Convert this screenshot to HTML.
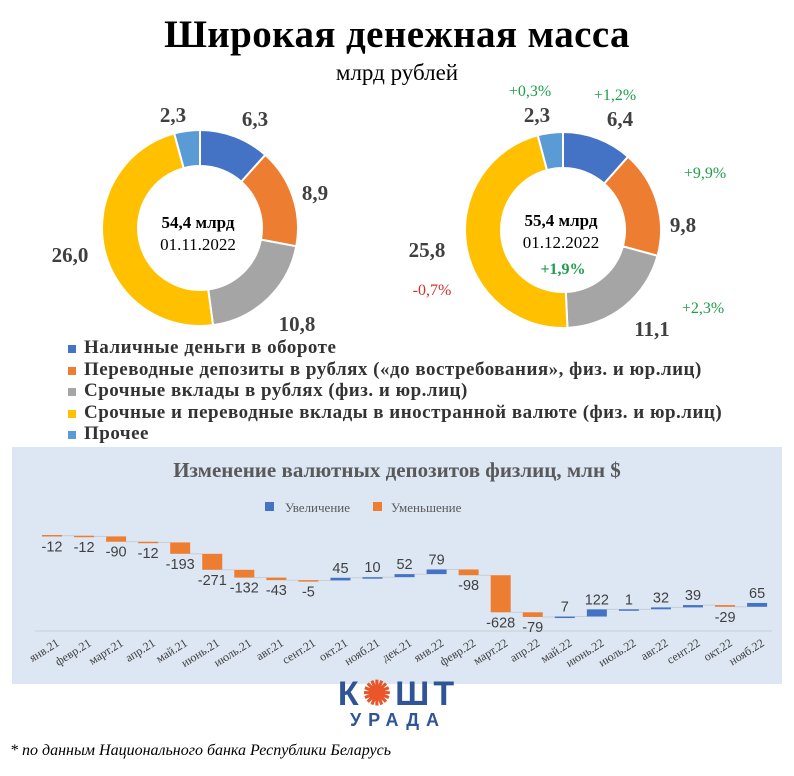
<!DOCTYPE html>
<html><head><meta charset="utf-8">
<style>
body{margin:0;width:794px;height:776px;background:#fff;overflow:hidden;font-family:"Liberation Serif",serif;position:relative}
.t{position:absolute;white-space:nowrap}
</style></head><body>
<div class="t" style="left:0;width:794px;text-align:center;top:12px;font-size:39px;font-weight:bold;color:#000;letter-spacing:0.4px">Широкая денежная масса</div>
<div class="t" style="left:0;width:794px;text-align:center;top:60px;font-size:23px;color:#000">млрд рублей</div>
<svg id="donuts" width="794" height="340" style="position:absolute;left:0;top:0"></svg>
<div class="t" style="left:68px;top:337px;font-size:19px;font-weight:bold;color:#333;line-height:21.5px;letter-spacing:0.5px">
<div><span style="display:inline-block;width:8px;height:8px;background:#4472c4;margin-right:8px"></span>Наличные деньги в обороте</div>
<div><span style="display:inline-block;width:8px;height:8px;background:#ed7d31;margin-right:8px"></span>Переводные депозиты в рублях («до востребования», физ. и юр.лиц)</div>
<div><span style="display:inline-block;width:8px;height:8px;background:#a5a5a5;margin-right:8px"></span>Срочные вклады в рублях (физ. и юр.лиц)</div>
<div><span style="display:inline-block;width:8px;height:8px;background:#ffc000;margin-right:8px"></span>Срочные и переводные вклады в иностранной валюте (физ. и юр.лиц)</div>
<div><span style="display:inline-block;width:8px;height:8px;background:#5b9bd5;margin-right:8px"></span>Прочее</div>
</div>
<div style="position:absolute;left:12px;top:447px;width:770px;height:237px;background:#dde7f3"></div>
<svg id="wf" width="794" height="776" style="position:absolute;left:0;top:0"></svg>
<div class="t" style="left:308px;top:678px;width:180px;text-align:center;font-family:'Liberation Sans',sans-serif;font-weight:bold;color:#2f5597">
<div style="font-size:34px;letter-spacing:4px;line-height:32px">К<span style="color:#e8562a">✺</span>ШТ</div>
<div style="font-size:18px;letter-spacing:7px;line-height:20px">УРАДА</div></div>
<div class="t" style="left:10px;top:742px;font-size:16px;font-style:italic;color:#000">* по данным Национального банка Республики Беларусь</div>
<script>
const NS="http://www.w3.org/2000/svg";
const colors=["#4472c4","#ed7d31","#a5a5a5","#ffc000","#5b9bd5"];
const nov=[6.3,8.9,10.8,26.0,2.3];
const dec=[6.4,9.8,11.1,25.8,2.3];
function mk(svg,tag,attrs){const e=document.createElementNS(NS,tag);for(const k in attrs)e.setAttribute(k,attrs[k]);svg.appendChild(e);return e;}
function txt(svg,x,y,s,size,fill,bold,anchor,fam){const e=mk(svg,"text",{x:x,y:y,"font-size":size,fill:fill,"font-family":fam||"Liberation Serif, serif","text-anchor":anchor||"middle"});if(bold)e.setAttribute("font-weight","bold");e.textContent=s;return e;}
const D=document.getElementById("donuts");
function donut(cx,cy,vals,name){
  const R=98,r=62,tot=vals.reduce((a,b)=>a+b,0);let a0=-Math.PI/2;
  vals.forEach((v,i)=>{const a1=a0+v/tot*2*Math.PI,l=(a1-a0)>Math.PI?1:0;
    const p=`M${cx+R*Math.cos(a0)},${cy+R*Math.sin(a0)}A${R},${R} 0 ${l} 1 ${cx+R*Math.cos(a1)},${cy+R*Math.sin(a1)}L${cx+r*Math.cos(a1)},${cy+r*Math.sin(a1)}A${r},${r} 0 ${l} 0 ${cx+r*Math.cos(a0)},${cy+r*Math.sin(a0)}Z`;
    const e=mk(D,"path",{d:p,fill:colors[i],stroke:"#fff","stroke-width":2});
    
    
    a0=a1;});
}
donut(200,228,nov,"nov-donut");donut(563,230,dec,"dec-donut");
const B="#404040";
txt(D,198,228,"54,4 млрд",17,"#000",true);txt(D,198,250,"01.11.2022",17,"#000");
txt(D,561,226,"55,4 млрд",17,"#000",true);txt(D,561,248,"01.12.2022",17,"#000");
txt(D,563,274,"+1,9%",16,"#1e9e4a",true);
[[173,122,"2,3"],[255,126,"6,3"],[315,200,"8,9"],[297,331,"10,8"],[70,262,"26,0"]].forEach(a=>txt(D,a[0],a[1],a[2],21,B,true));
[[537,122,"2,3"],[620,126,"6,4"],[683,232,"9,8"],[652,336,"11,1"],[427,257,"25,8"]].forEach(a=>txt(D,a[0],a[1],a[2],21,B,true));
[[530,96,"+0,3%","#1e9e4a"],[615,100,"+1,2%","#1e9e4a"],[705,178,"+9,9%","#1e9e4a"],[703,313,"+2,3%","#1e9e4a"],[432,295,"-0,7%","#d0312d"]].forEach(a=>txt(D,a[0],a[1],a[2],16,a[3]));

// waterfall
const months=["янв.21","февр.21","март.21","апр.21","май.21","июнь.21","июль.21","авг.21","сент.21","окт.21","нояб.21","дек.21","янв.22","февр.22","март.22","апр.22","май.22","июнь.22","июль.22","авг.22","сент.22","окт.22","нояб.22"];
const changes=[-12,-12,-90,-12,-193,-271,-132,-43,-5,45,10,52,79,-98,-628,-79,7,122,1,32,39,-29,65];
const W=document.getElementById("wf");
const x0=52,dx=32.05,bw=20;
const xs=i=>x0+i*dx;
const ys=v=>535-v*0.059;
txt(W,397,477,"Изменение валютных депозитов физлиц, млн $",21,"#595959",true);
mk(W,"rect",{x:265,y:502,width:9,height:9,fill:"#4472c4"});txt(W,285,512,"Увеличение",13,"#595959",false,"start");
mk(W,"rect",{x:373,y:502,width:9,height:9,fill:"#ed7d31"});txt(W,391,512,"Уменьшение",13,"#595959",false,"start");
mk(W,"line",{x1:35,y1:631,x2:772,y2:631,stroke:"#c8cdd4","stroke-width":1});
let cum=0;
changes.forEach((v,i)=>{
  const a=cum,b=cum+v;cum=b;
  const top=ys(Math.max(a,b)),h=Math.max(1.5,Math.abs(ys(a)-ys(b)));
  if(i<changes.length-1){mk(W,"line",{x1:xs(i)+bw/2,y1:ys(b),x2:xs(i+1)-bw/2,y2:ys(b),stroke:"#c8cdd4","stroke-width":1});}
  const r=mk(W,"rect",{x:xs(i)-bw/2,y:top,width:bw,height:h,fill:v>=0?"#4472c4":"#ed7d31"});
  
  
  const ly=v>=0?top-5:top+h+15;
  txt(W,xs(i),ly,String(v),14.5,"#404040",false,"middle","Liberation Sans, sans-serif");
  const l=txt(W,xs(i)+8,645,months[i],12,"#404040",false,"end");
  l.setAttribute("transform",`rotate(-32 ${xs(i)+8} 645)`);
});
</script>
</body></html>
